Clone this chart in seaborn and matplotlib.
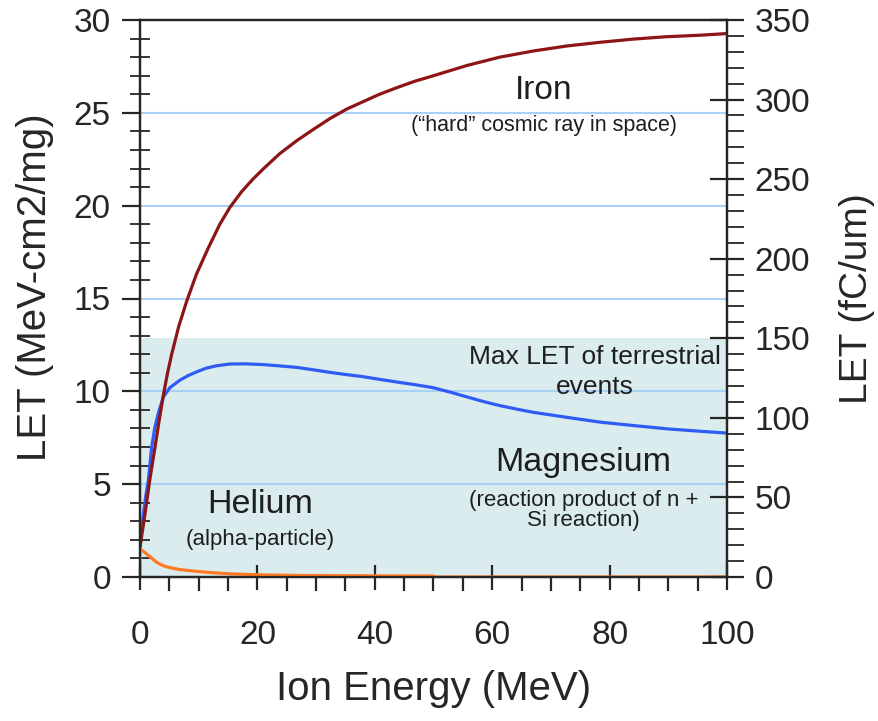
import numpy as np
import pandas as pd
import matplotlib
matplotlib.use("Agg")
import matplotlib.pyplot as plt
import seaborn as sns
from matplotlib.ticker import MultipleLocator

# ---- data ----
iron_x = [0, 0.85, 1.7, 2.56, 3.3, 3.98, 4.7, 5.4, 6.6, 7.95, 9.6, 11.6, 13.6, 15.3, 17.3, 19.3, 21, 23.8,
          26.7, 29.5, 32.4, 35.2, 38, 40.8, 43.7, 46.8, 50, 55.7, 61.3, 67, 72.7, 78.4, 84, 89.7, 95.4, 100]
iron_y = [1.6, 3.4, 5.3, 7.0, 8.5, 9.8, 11.0, 12.0, 13.5, 14.85, 16.3, 17.7, 19.0, 19.9, 20.75, 21.45, 21.98, 22.8,
          23.5, 24.1, 24.7, 25.2, 25.6, 26.0, 26.35, 26.7, 27.0, 27.55, 28.0, 28.33, 28.6, 28.8, 28.97, 29.1, 29.18, 29.27]

mg_x = [0, 0.5, 1.0, 1.42, 1.99, 2.5, 3.1, 3.98, 5.1, 6.8, 8.2, 9.66, 11.3, 13.1, 15.3, 18, 21, 23.8, 26.7,
        29.5, 32.4, 35.2, 38, 40.9, 43.8, 46.8, 49.9, 52.8, 55.7, 58.5, 61.3, 64.2, 67, 72.7, 78.4, 84, 89.8, 95.4, 100]
mg_y = [1.7, 3.2, 4.4, 5.2, 7.0, 8.0, 8.8, 9.7, 10.2, 10.6, 10.85, 11.05, 11.25, 11.38, 11.47, 11.48, 11.44, 11.37, 11.29,
        11.16, 11.02, 10.9, 10.79, 10.64, 10.5, 10.36, 10.2, 9.96, 9.7, 9.45, 9.23, 9.04, 8.87, 8.6, 8.34, 8.16, 7.98, 7.85, 7.75]

he_x = [0, 0.02, 0.3, 0.9, 1.7, 2.8, 4.0, 5.4, 6.8, 9.7, 12.5, 15.3, 21, 28, 35, 42, 50, 50.3, 75, 100]
he_y = [0, 1.42, 1.45, 1.3, 1.09, 0.8, 0.6, 0.48, 0.4, 0.3, 0.23, 0.17, 0.11, 0.08, 0.07, 0.06, 0.05, 0.0, 0.0, 0.0]

left_ticks = [0, 5, 10, 15, 20, 25, 30]
right_ticks = [0, 50, 100, 150, 200, 250, 300, 350]
x_ticks = [0, 20, 40, 60, 80, 100]
grid_levels = [5, 10, 15, 20, 25]
terrestrial_max_fc = 150

# ---- style ----
sns.set_style("white")
plt.rcParams['font.family'] = ['Liberation Sans', 'DejaVu Sans']

fig = plt.figure(figsize=(8.79, 7.21), dpi=100)
ax = fig.add_axes([140/879, 1-577/721, (727-140)/879, (577-20)/721])

ratio = 350/30.0
ax.set_xlim(0, 100)
ax.set_ylim(0, 30)

# shaded terrestrial region
ax.axhspan(0, terrestrial_max_fc/ratio, facecolor='#daecee', edgecolor='none', zorder=0)
for g in grid_levels:
    ax.axhline(g, color='#a9d1f7', lw=1.5, zorder=1)

df_fe = pd.DataFrame({'x': iron_x, 'y': iron_y})
df_mg = pd.DataFrame({'x': mg_x, 'y': mg_y})
df_he = pd.DataFrame({'x': he_x, 'y': he_y})
sns.lineplot(data=df_he, x='x', y='y', ax=ax, color='#ff7a22', lw=2.3, sort=False, estimator=None, zorder=3)
sns.lineplot(data=df_mg, x='x', y='y', ax=ax, color='#2e5cf5', lw=2.3, sort=False, estimator=None, zorder=4)
sns.lineplot(data=df_fe, x='x', y='y', ax=ax, color='#8e1515', lw=2.3, sort=False, estimator=None, zorder=5)

for s in ax.spines.values():
    s.set_linewidth(1.6)
    s.set_color('black')

ax.set_xticks(x_ticks)
ax.xaxis.set_minor_locator(MultipleLocator(5))
ax.set_yticks(left_ticks)
ax.yaxis.set_minor_locator(MultipleLocator(1))
ax.tick_params(axis='x', which='major', direction='inout', length=18, width=1.6, labelsize=24, pad=22)
ax.tick_params(axis='x', which='minor', direction='out', length=10, width=1.6)
ax.tick_params(axis='y', which='major', direction='out', length=13, width=1.6, labelsize=24, pad=8)
ax.tick_params(axis='y', which='minor', direction='inout', length=14, width=1.3)
ax.tick_params(bottom=True, left=True, which='both')

ax.set_xlabel('Ion Energy (MeV)', fontsize=29, labelpad=14)
ax.set_ylabel('LET (MeV-cm2/mg)', fontsize=29)
ax.yaxis.set_label_coords(-0.147, 0.52)

ax2 = ax.twinx()
ax2.set_ylim(0, 350)
ax2.set_yticks(right_ticks)
ax2.yaxis.set_minor_locator(MultipleLocator(10))
ax2.tick_params(axis='y', which='major', direction='inout', length=24, width=1.6, labelsize=24, pad=8)
ax2.tick_params(axis='y', which='minor', direction='out', length=12, width=1.3)
ax2.set_ylabel('LET (fC/um)', fontsize=28)
ax2.yaxis.set_label_coords(1.19, 0.5)
for s in ax2.spines.values():
    s.set_linewidth(1.6)
ax2.grid(False)

tc = '#1e1e1e'
ax.text(68.7, 26.2, 'Iron', ha='center', va='center', fontsize=24, color=tc)
ax.text(68.8, 24.3, '(“hard” cosmic ray in space)', ha='center', va='center', fontsize=15.5, color=tc)
ax.text(77.5, 11.04, 'Max LET of terrestrial\nevents', ha='center', va='center', fontsize=19,
        color=tc, linespacing=1.3)
ax.text(75.5, 6.19, 'Magnesium', ha='center', va='center', fontsize=24.5, color=tc)
ax.text(75.6, 3.6, '(reaction product of n +\nSi reaction)', ha='center', va='center', fontsize=16,
        color=tc, linespacing=0.95)
ax.text(20.4, 3.88, 'Helium', ha='center', va='center', fontsize=24.5, color=tc)
ax.text(20.4, 2.0, '(alpha-particle)', ha='center', va='center', fontsize=16, color=tc)

fig.savefig('out.png', dpi=100)
